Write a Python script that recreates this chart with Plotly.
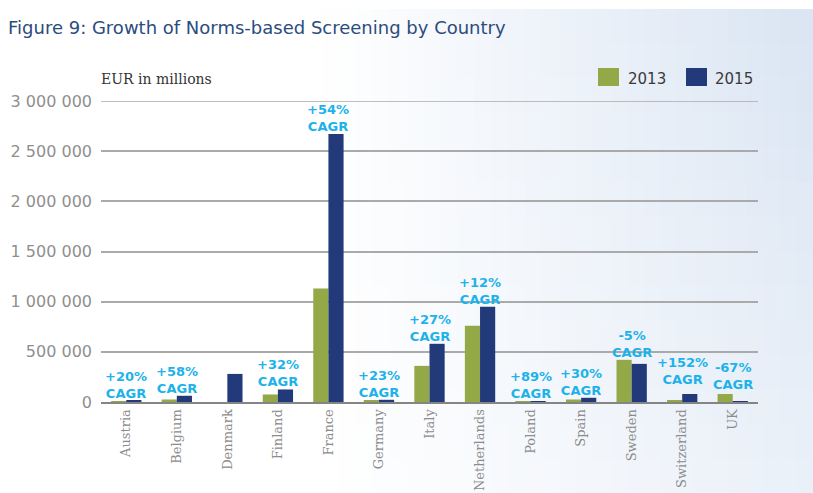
import plotly.graph_objects as go

# ---------------- data ----------------
COUNTRIES = ["Austria", "Belgium", "Denmark", "Finland", "France", "Germany", "Italy",
             "Netherlands", "Poland", "Spain", "Sweden", "Switzerland", "UK"]
VALUES_2013 = [10000, 25000, 0, 75000, 1130000, 15000, 360000, 760000, 3000, 25000, 420000, 12600, 80000]
VALUES_2015 = [14400, 62000, 280000, 125000, 2670000, 22000, 580000, 950000, 10000, 42000, 380000, 80000, 9000]
CAGR_LABELS = ["+20%", "+58%", None, "+32%", "+54%", "+23%", "+27%", "+12%", "+89%", "+30%", "-5%", "+152%", "-67%"]
SERIES_NAMES = ["2013", "2015"]
TICK_VALUES = [0, 500000, 1000000, 1500000, 2000000, 2500000, 3000000]
TICK_LABELS = ["0", "500 000", "1 000 000", "1 500 000", "2 000 000", "2 500 000", "3 000 000"]
TITLE = "Figure 9: Growth of Norms-based Screening by Country"
UNIT_LABEL = "EUR in millions"

# ---------------- layout constants ----------------
W, H = 813, 493
ML, MR, MT, MB = 101, 55, 101, 91
PW, PH = W - ML - MR, H - MT - MB
GREEN = "#93a846"
BLUE = "#22397a"
CYAN = "#1db2ea"

def px_x(px):
    return (px - ML) / PW

def px_y(py):
    return (H - MB - py) / PH

fig = go.Figure()
fig.add_trace(go.Bar(x=COUNTRIES, y=VALUES_2013, name=SERIES_NAMES[0], marker=dict(color=GREEN, line=dict(width=0))))
fig.add_trace(go.Bar(x=COUNTRIES, y=VALUES_2015, name=SERIES_NAMES[1], marker=dict(color=BLUE, line=dict(width=0))))

shapes = []
# background gradient (decorative)
NX, NY = 48, 14
top_px = 9
for i in range(NX):
    for j in range(NY):
        x0 = i * W / NX
        x1 = (i + 1) * W / NX
        y0 = top_px + j * (H - top_px) / NY
        y1 = top_px + (j + 1) * (H - top_px) / NY
        xc = (x0 + x1) / 2
        yc = (y0 + y1) / 2
        t = min(max((xc - 320) / 480, 0), 1)
        s = (yc - top_px) / (H - top_px)
        a = t * (1 - 0.45 * s)
        c = (218, 229, 243)
        col = tuple(round(255 * (1 - a) + ci * a) for ci in c)
        shapes.append(dict(type="rect", xref="paper", yref="paper",
                           x0=px_x(x0), x1=px_x(x1 + 0.6), y0=px_y(y1 + 0.6), y1=px_y(y0),
                           fillcolor="rgb(%d,%d,%d)" % col, line=dict(width=0), layer="below"))

# top gridline at 3 000 000 (plotly hides the grid line on the range edge)
shapes.append(dict(type="line", xref="paper", yref="y", x0=0, x1=1, y0=TICK_VALUES[-1], y1=TICK_VALUES[-1],
                   line=dict(color="#aaaaaa", width=1.5), layer="below"))

# custom legend swatches
legend_items = [(598, 619, GREEN, 626), (686, 707, BLUE, 713)]
annotations = []
for (xa, xb, col, tx), name in zip(legend_items, SERIES_NAMES):
    shapes.append(dict(type="rect", xref="paper", yref="paper",
                       x0=px_x(xa), x1=px_x(xb), y0=px_y(86), y1=px_y(68),
                       fillcolor=col, line=dict(width=0)))
    annotations.append(dict(text=name, xref="paper", yref="paper", x=px_x(tx), y=px_y(79),
                            xanchor="left", yanchor="middle", showarrow=False,
                            font=dict(family="DejaVu Sans", size=15, color="#3a3a3a")))

annotations.append(dict(text=UNIT_LABEL, xref="paper", yref="paper", x=px_x(99), y=px_y(79),
                        xanchor="left", yanchor="middle", showarrow=False,
                        font=dict(family="DejaVu Serif", size=14, color="#333333")))

# CAGR labels
extra_shift = {"Switzerland": 7, "UK": 2}
for c, v13, v15, lab in zip(COUNTRIES, VALUES_2013, VALUES_2015, CAGR_LABELS):
    if lab is None:
        continue
    top = max(v13, v15)
    sh = extra_shift.get(c, 0)
    f = dict(family="DejaVu Sans", size=13, color=CYAN)
    annotations.append(dict(text="<b>%s</b><br><b>CAGR</b>" % lab, x=c, y=top, xref="x", yref="y",
                            yanchor="bottom", showarrow=False, yshift=sh - 1, font=f, borderpad=0))

fig.update_layout(
    width=W, height=H,
    margin=dict(l=ML, r=MR, t=MT, b=MB, pad=0, autoexpand=False),
    paper_bgcolor="white", plot_bgcolor="rgba(0,0,0,0)",
    barmode="group", bargap=0.4, bargroupgap=0,
    showlegend=False,
    title=dict(text=TITLE, x=8 / W, xref="container", xanchor="left",
               y=1 - 28 / H, yref="container", yanchor="middle",
               font=dict(family="DejaVu Sans", size=18, color="#2c4c7e")),
    shapes=shapes,
    annotations=annotations,
    xaxis=dict(range=[-0.5, 12.5], tickangle=-90, showline=True, linecolor="#858585", linewidth=2,
               showgrid=False, ticks="", automargin=False,
               tickfont=dict(family="DejaVu Serif", size=13, color="#8c8c8c")),
    yaxis=dict(range=[0, 3000000], tickvals=TICK_VALUES, ticktext=TICK_LABELS, automargin=False,
               showgrid=True, gridcolor="#aaaaaa", gridwidth=1.5, zeroline=False, showline=False,
               ticks="", ticklabelstandoff=8,
               tickfont=dict(family="DejaVu Sans", size=16, color="#8f8f8f")),
)

fig.write_html("out.html", config={"displayModeBar": False},
               post_script="document.body.style.margin='0';")
